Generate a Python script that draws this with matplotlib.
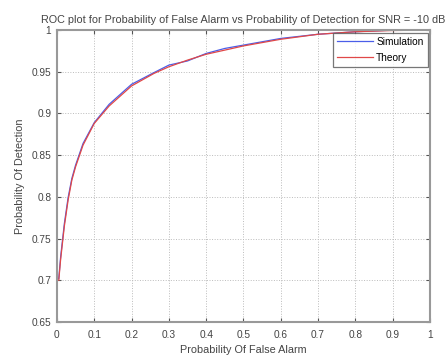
import matplotlib
matplotlib.use("Agg")
import matplotlib.pyplot as plt

pfa = [0.005, 0.01, 0.02, 0.03, 0.04, 0.05, 0.07, 0.10, 0.14, 0.20, 0.26, 0.30,
       0.35, 0.40, 0.45, 0.50, 0.60, 0.70, 0.80, 0.90, 1.00]
pd_theory = [0.700, 0.725, 0.765, 0.796, 0.820, 0.836, 0.862, 0.888, 0.909, 0.933,
             0.948, 0.956, 0.964, 0.971, 0.976, 0.981, 0.989, 0.995, 0.998, 0.9995, 1.0]
pd_sim = [0.702, 0.728, 0.768, 0.799, 0.822, 0.838, 0.864, 0.889, 0.911, 0.935,
          0.949, 0.958, 0.963, 0.972, 0.978, 0.982, 0.990, 0.995, 0.998, 1.0, 1.0]
xticks = [0, 0.1, 0.2, 0.3, 0.4, 0.5, 0.6, 0.7, 0.8, 0.9, 1]
yticks = [0.65, 0.7, 0.75, 0.8, 0.85, 0.9, 0.95, 1]

plt.rcParams['font.family'] = ['Liberation Sans', 'DejaVu Sans']
fig = plt.figure(figsize=(4.48, 3.56), dpi=100)
ax = fig.add_axes([0.127, 0.0955, 0.833, 0.82])
ax.plot(pfa, pd_sim, color='#4a5ee8', lw=0.9, label='Simulation')
ax.plot(pfa, pd_theory, color='#e04848', lw=0.9, label='Theory')
ax.set_xlim(0, 1)
ax.set_ylim(0.65, 1)
ax.set_xticks(xticks)
ax.set_xticklabels([f"{t:g}" for t in xticks])
ax.set_yticks(yticks)
ax.set_yticklabels([f"{t:g}" for t in yticks])
ax.tick_params(direction='in', top=True, right=True, labelsize=7.3, length=3,
               color='#555555', labelcolor='#444444')
ax.tick_params(axis='x', pad=6)
ax.tick_params(axis='y', pad=4)
ax.grid(True, linestyle=':', color='#bbbbbb', lw=0.7)
for s in ax.spines.values():
    s.set_color('#999999')
    s.set_linewidth(1.5)
ax.set_title('ROC plot for Probability of False Alarm vs Probability of Detection for SNR = -10 dB',
             fontsize=7.8, pad=5, color='#444444')
ax.set_xlabel('Probability Of False Alarm', fontsize=7.8, color='#444444', labelpad=3)
ax.set_ylabel('Probability Of Detection', fontsize=7.8, color='#444444', labelpad=5)
leg = ax.legend(loc='upper right', fontsize=7.3, frameon=True, fancybox=False,
                edgecolor='#555555', borderaxespad=0.25, handlelength=3.6,
                handletextpad=0.3, labelspacing=0.6, borderpad=0.4)
leg.get_frame().set_linewidth(0.9)
fig.savefig('out.png', dpi=100, facecolor='white')
